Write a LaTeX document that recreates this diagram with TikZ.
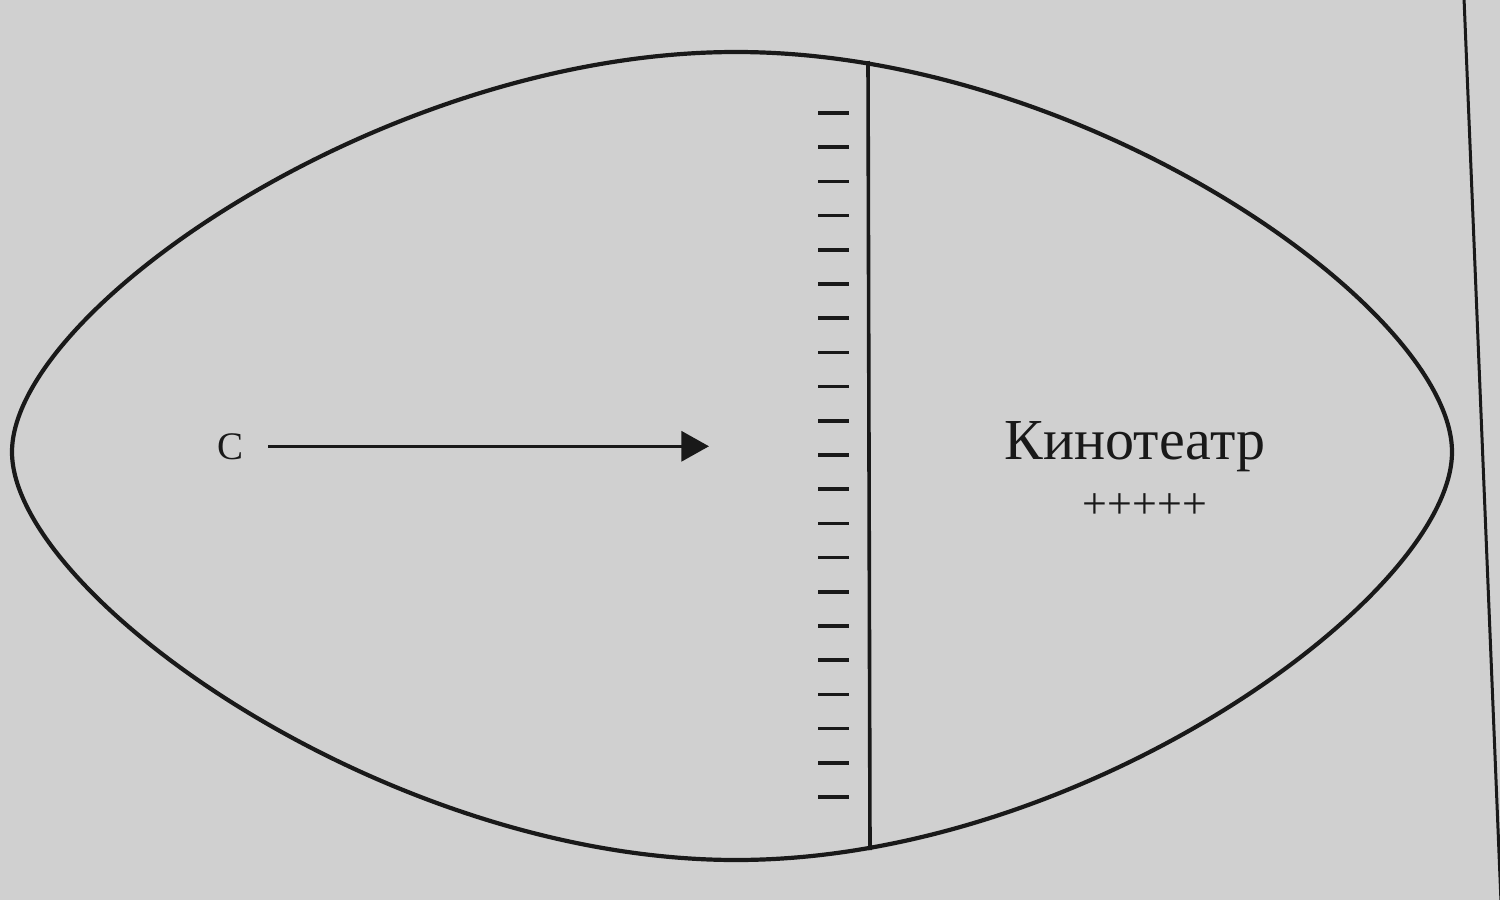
\documentclass[tikz,border=0pt]{standalone}
\usepackage{fontspec}
\setmainfont{Liberation Serif}
\usetikzlibrary{arrows.meta}
\definecolor{paper}{RGB}{208,208,208}
\definecolor{ink}{RGB}{25,25,25}
\begin{document}
\begin{tikzpicture}[x=0.5pt,y=-0.5pt,
  outline/.style={draw=ink,line width=2.1pt},
  screenline/.style={draw=ink,line width=1.8pt},
  tickmark/.style={draw=ink,line width=1.8pt},
  pageedge/.style={draw=ink,line width=1.5pt},
  arr/.style={draw=ink,line width=1.6pt,-{Triangle[length=13.8pt,width=15pt]}},
  lbl/.style={text=ink,inner sep=0pt}]
\fill[paper] (0,0) rectangle (1500,900);
\useasboundingbox (0,0) rectangle (1500,900);
% lens outline
\draw[outline] (12,452) .. controls (12,310) and (386,52) .. (736,52)
  .. controls (1086,52) and (1452,310) .. (1452,452)
  .. controls (1452,594) and (1086,860) .. (736,860)
  .. controls (386,860) and (12,594) .. (12,452) -- cycle;
% screen line
\coordinate (screentop) at (868,61);
\coordinate (screenbot) at (870,850);
\draw[screenline] (screentop) -- (screenbot);
% tick marks
\foreach \i in {0,...,20}{
  \draw[tickmark] (818,{113+\i*34.2}) -- (849,{113+\i*34.2});
}
% page edge
\coordinate (edgetop) at (1464,-2);
\coordinate (edgebot) at (1501,902);
\draw[pageedge] (edgetop) -- (edgebot);
% labels
\node[lbl,anchor=base] (c) at (231,459) {\fontsize{19.5}{22}\selectfont С};
\node[lbl,anchor=base] (kino) at (1135,459) {\fontsize{29}{33}\selectfont Кинотеатр};
\node[lbl,anchor=base] (plus) at (1145,518) {\fontsize{22}{26}\selectfont +++++};
% arrow
\coordinate (arrowend) at (709,448);
\draw[arr] (c.east) ++(24,0) -- (c.east -| arrowend);
\end{tikzpicture}
\end{document}
